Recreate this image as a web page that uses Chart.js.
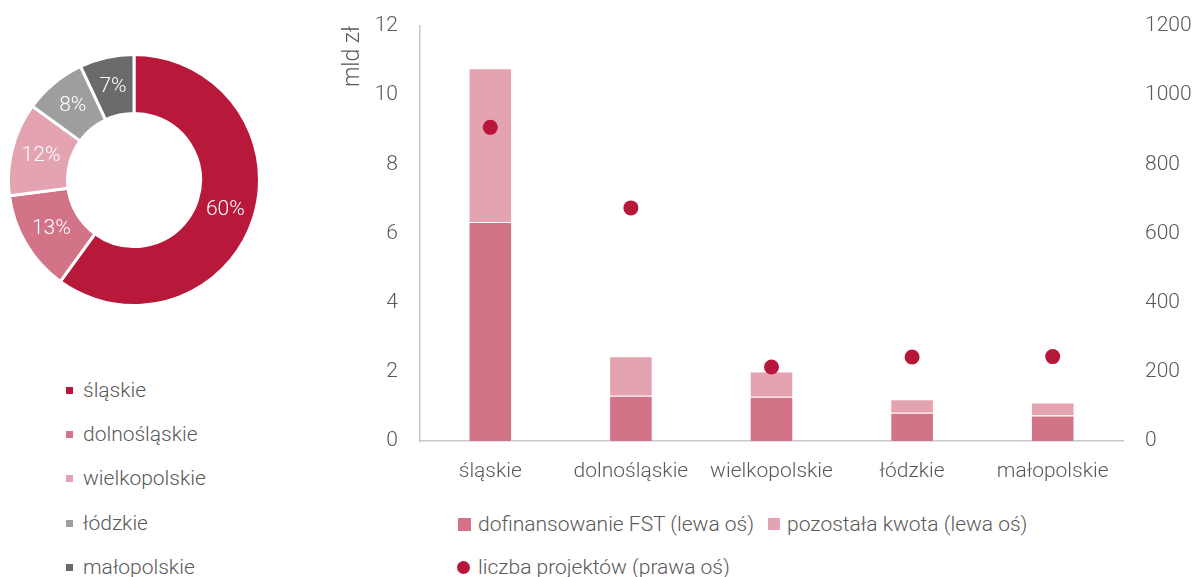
<!DOCTYPE html>
<html lang="pl">
<head>
<meta charset="utf-8">
<title>FST – regiony</title>
<script src="https://cdn.jsdelivr.net/npm/chart.js@4.4.0/dist/chart.umd.min.js"></script>
<style>
  body { margin: 0; background: #fff; font-family: Roboto, "Noto Sans", sans-serif; font-weight: 300; color: #595959; }
  #pieBox { position: absolute; left: 7px; top: 53px; width: 254px; height: 254px; }
  #barBox { position: absolute; left: 330px; top: 0; width: 865px; height: 500px; }
  .lg-row { position: absolute; display: flex; align-items: center; height: 24px; white-space: nowrap; font-size: 21px; }
  .lg-item { display: flex; align-items: center; margin-right: 14px; }
  .lg-mark { display: inline-block; }
</style>
</head>
<body>
<div id="pieBox"><canvas id="pieChart"></canvas></div>
<div id="barBox"><canvas id="barChart"></canvas></div>
<div id="pieLegend"></div>
<div id="barLegend"></div>

<script>
const regions = ['śląskie', 'dolnośląskie', 'wielkopolskie', 'łódzkie', 'małopolskie'];
const regionShare = [60, 13, 12, 8, 7];
const regionColors = ['#b8183a', '#d27387', '#e4a3b0', '#9e9e9e', '#6a6a6a'];

const fstFunding = [6.33, 1.31, 1.28, 0.82, 0.74];
const remainingAmount = [4.45, 1.14, 0.73, 0.39, 0.37];
const projectCount = [907, 674, 214, 243, 244];

const mldTicks = [0, 2, 4, 6, 8, 10, 12];
const countTicks = [0, 200, 400, 600, 800, 1000, 1200];

const seriesNames = ['dofinansowanie FST (lewa oś)', 'pozostała kwota (lewa oś)', 'liczba projektów (prawa oś)'];
const seriesColors = ['#d27387', '#e4a3b0', '#b8163a'];

const textGray = '#595959';
const tickFont = { family: 'Roboto', size: 21, weight: 300 };
// hidden tick marks keep the labels away from the axis without adding top padding
const noGrid = { display: false, drawTicks: true, tickLength: 16 };

// white percentage labels inside the ring
const pctLabels = {
    id: 'pctLabels',
    afterDatasetsDraw(chart) {
        const ctx = chart.ctx;
        ctx.save();
        ctx.font = '300 21px Roboto';
        ctx.fillStyle = '#fff';
        ctx.textAlign = 'center';
        ctx.textBaseline = 'middle';
        chart.getDatasetMeta(0).data.forEach((arc, i) => {
            const p = arc.tooltipPosition();
            ctx.fillText(regionShare[i] + '%', p.x, p.y);
        });
        ctx.restore();
    }
};

new Chart(document.getElementById('pieChart'), {
    type: 'doughnut',
    data: {
        labels: regions,
        datasets: [{
            data: regionShare,
            backgroundColor: regionColors,
            borderColor: '#fff',
            borderWidth: 3
        }]
    },
    options: {
        responsive: true,
        maintainAspectRatio: false,
        animation: false,
        cutout: '53%',
        plugins: { legend: { display: false }, tooltip: { enabled: false } }
    },
    plugins: [pctLabels]
});

new Chart(document.getElementById('barChart'), {
    type: 'bar',
    data: {
        labels: regions,
        datasets: [
            {
                label: seriesNames[0],
                data: fstFunding,
                backgroundColor: seriesColors[0],
                borderColor: 'rgba(255,255,255,0.5)',
                borderWidth: 1,
                barPercentage: 0.31,
                categoryPercentage: 1,
                order: 2
            },
            {
                label: seriesNames[1],
                data: remainingAmount,
                backgroundColor: seriesColors[1],
                borderColor: 'rgba(255,255,255,0.5)',
                borderWidth: 1,
                barPercentage: 0.31,
                categoryPercentage: 1,
                order: 2
            },
            {
                type: 'line',
                label: seriesNames[2],
                data: projectCount,
                yAxisID: 'y2',
                showLine: false,
                pointRadius: 7.5,
                pointBorderWidth: 0,
                pointBackgroundColor: seriesColors[2],
                order: 1
            }
        ]
    },
    options: {
        responsive: true,
        maintainAspectRatio: false,
        animation: false,
        layout: { padding: { top: 26 } },
        plugins: { legend: { display: false }, tooltip: { enabled: false } },
        scales: {
            x: {
                stacked: true,
                grid: { display: false, drawTicks: false },
                border: { color: '#c8c8c8', width: 1.5 },
                ticks: { color: textGray, font: tickFont, padding: 18 },
                afterFit: s => { s.height = 59; }
            },
            y: {
                stacked: true,
                min: mldTicks[0],
                max: mldTicks[mldTicks.length - 1],
                grid: noGrid,
                border: { color: '#c8c8c8', width: 1.5 },
                ticks: { stepSize: mldTicks[1] - mldTicks[0], color: textGray, font: tickFont, padding: 6 },
                title: { display: true, text: 'mld zł', align: 'end', color: textGray, font: { family: 'Roboto', size: 23, weight: 300 }, padding: { top: 9 } },
                afterFit: s => { s.width = 90; }
            },
            y2: {
                position: 'right',
                min: countTicks[0],
                max: countTicks[countTicks.length - 1],
                grid: noGrid,
                border: { display: false },
                ticks: {
                    stepSize: countTicks[1] - countTicks[0],
                    color: textGray,
                    font: tickFont,
                    padding: 6,
                    callback: v => String(v)
                },
                afterFit: s => { s.width = 72; }
            }
        }
    }
});

// legends
function legendRow(parent, left, top, items) {
    const row = document.createElement('div');
    row.className = 'lg-row';
    row.style.left = left + 'px';
    row.style.top = top + 'px';
    items.forEach(it => {
        const item = document.createElement('div');
        item.className = 'lg-item';
        const mark = document.createElement('span');
        mark.className = 'lg-mark';
        mark.style.width = it.size + 'px';
        mark.style.height = it.size + 'px';
        mark.style.marginRight = it.gap + 'px';
        mark.style.background = it.color;
        if (it.round) mark.style.borderRadius = '50%';
        item.appendChild(mark);
        item.appendChild(document.createTextNode(it.text));
        row.appendChild(item);
    });
    parent.appendChild(row);
}

const pieLegend = document.getElementById('pieLegend');
const pieRowTops = [378, 422, 466, 511, 555];
regions.forEach((r, i) => {
    legendRow(pieLegend, 66, pieRowTops[i], [{ text: r, color: regionColors[i], size: 7, gap: 10 }]);
});

const barLegend = document.getElementById('barLegend');
legendRow(barLegend, 458, 512, [
    { text: seriesNames[0], color: seriesColors[0], size: 13, gap: 7 },
    { text: seriesNames[1], color: seriesColors[1], size: 12, gap: 7 }
]);
legendRow(barLegend, 457, 555, [
    { text: seriesNames[2], color: seriesColors[2], size: 13, gap: 8, round: true }
]);
</script>
</body>
</html>
